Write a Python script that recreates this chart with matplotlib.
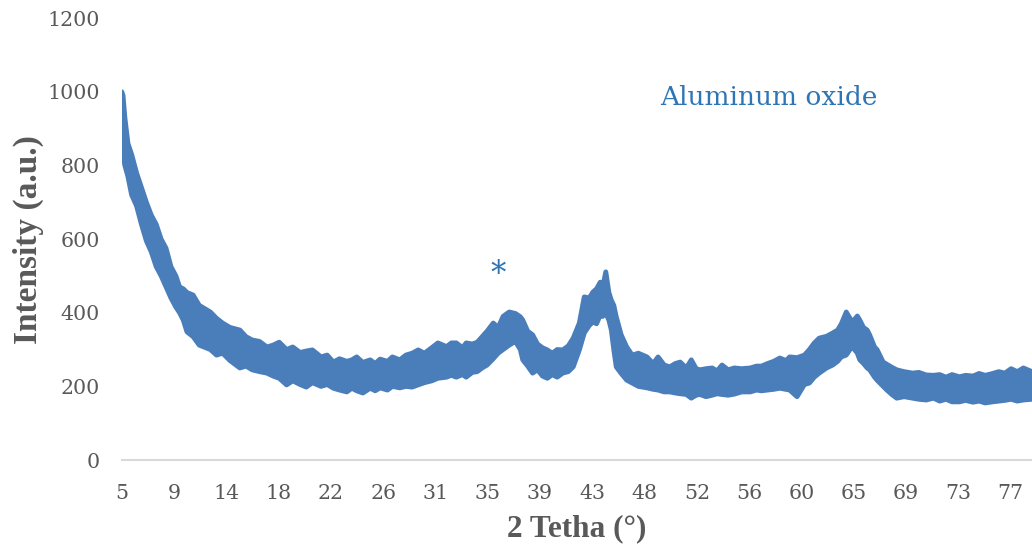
import numpy as np
import matplotlib
matplotlib.use('Agg')
import matplotlib.pyplot as plt

# 2 theta (deg) with lower / upper edge of the measured intensity band
two_theta = [5.0, 5.1, 5.25, 5.5, 5.8, 6.2, 6.6, 7.0, 7.4, 7.8, 8.2, 8.6, 9.0, 9.4, 9.7,
             10.0, 10.3, 10.8, 11.3, 12.2, 12.7, 13.2, 13.8, 14.6, 15.1, 15.6, 16.2,
             16.8, 17.3, 17.8, 18.4, 18.9, 19.5, 20.0, 20.5, 21.2, 21.7, 22.2, 22.7,
             23.3, 23.7, 24.1, 24.6, 25.2, 25.6, 26.0, 26.6, 27.0, 27.6, 28.1, 28.6,
             29.1, 29.6, 30.2, 30.7, 31.4, 31.8, 32.2, 32.7, 33.0, 33.5, 33.9, 34.3,
             34.7, 35.2, 35.6, 36.0, 36.5, 37.0, 37.4, 37.6, 38.0, 38.4, 38.8, 39.2,
             39.6, 40.0, 40.4, 40.85, 41.3, 41.7, 42.2, 42.6, 43.0, 43.3, 43.6, 43.9,
             44.1, 44.35, 44.6, 44.8, 45.0, 45.2, 45.6, 46.05, 46.5, 47.0, 47.7, 48.2,
             48.6, 49.1, 49.55, 50.0, 50.4, 50.9, 51.3, 51.7, 52.0, 52.5, 53.0, 53.4,
             53.8, 54.3, 54.8, 55.4, 56.1, 56.6, 57.0, 57.5, 58.0, 58.5, 59.0, 59.3,
             59.9, 60.5, 60.9, 61.3, 61.7, 62.3, 62.8, 63.2, 63.5, 63.9, 64.2, 64.4,
             64.8, 65.0, 65.3, 65.6, 65.8, 66.2, 66.4, 66.9, 67.2, 67.6, 68.0, 68.6,
             69.3, 69.8, 70.4, 71.0, 71.5, 72.0, 72.5, 73.1, 73.6, 74.2, 74.7, 75.2,
             75.8, 76.3, 76.8, 77.3, 77.8, 78.3, 79.0]
low = [880, 830, 800, 770, 720, 690, 640, 595, 565, 525, 500, 470, 440, 415, 400,
       380, 348, 335, 312, 300, 285, 290, 270, 250, 255, 245, 240,
       236, 228, 222, 204, 215, 205, 198, 210, 200, 205, 195, 190,
       185, 195, 188, 182, 195, 188, 196, 190, 200, 196, 200, 198,
       204, 210, 215, 222, 225, 230, 225, 232, 225, 238, 240, 250,
       258, 275, 290, 300, 312, 322, 300, 272, 255, 236, 245, 228,
       222, 232, 225, 236, 240, 253, 299, 345, 365, 375, 370, 394,
       390, 399, 380, 353, 300, 253, 235, 217, 209, 200, 196, 192,
       190, 185, 185, 182, 180, 178, 168, 176, 178, 172, 176, 180,
       178, 176, 179, 185, 185, 190, 188, 190, 192, 195, 192, 190,
       172, 205, 209, 225, 236, 250, 258, 268, 280, 285, 300, 307,
       290, 272, 262, 250, 245, 225, 217, 200, 190, 178, 168, 172,
       168, 165, 163, 168, 160, 165, 158, 158, 162, 157, 160, 155,
       158, 160, 162, 165, 160, 163, 165]
high = [1000, 990, 930, 860, 830, 780, 740, 700, 665, 640, 600, 575, 525, 500, 470,
        465, 455, 448, 420, 402, 385, 372, 360, 353, 335, 326, 322,
        307, 312, 320, 300, 307, 292, 296, 299, 280, 285, 266, 275,
        268, 272, 280, 265, 272, 262, 274, 268, 280, 272, 285, 290,
        299, 290, 305, 318, 308, 318, 318, 305, 318, 315, 320, 335,
        350, 372, 360, 390, 402, 398, 389, 380, 350, 340, 315, 305,
        299, 290, 300, 299, 310, 331, 372, 443, 440, 456, 465, 483,
        470, 511, 455, 434, 420, 389, 340, 307, 285, 290, 280, 262,
        280, 258, 253, 262, 266, 250, 272, 248, 245, 248, 250, 242,
        258, 245, 250, 248, 250, 255, 255, 262, 268, 277, 270, 280,
        278, 285, 300, 318, 331, 336, 345, 353, 370, 402, 385, 375,
        391, 380, 360, 353, 340, 307, 300, 266, 260, 252, 245, 240,
        236, 238, 231, 230, 232, 225, 232, 226, 230, 228, 235, 230,
        235, 240, 236, 248, 240, 250, 240]

xtick_pos = [5 + 4.25 * k for k in range(18)]
xtick_labels = ['5', '9', '14', '18', '22', '26', '31', '35', '39', '43',
                '48', '52', '56', '60', '65', '69', '73', '77']
yticks = [0, 200, 400, 600, 800, 1000, 1200]

line_col = '#4A7EBB'
text_col = '#595959'
label_col = '#2E75B6'

fig = plt.figure(figsize=(10.32, 5.5), dpi=100)
ax = fig.add_axes([0.118, 0.1636, 0.882, 0.8034])

x = np.array(two_theta)
lo = np.array(low)
hi = np.array(high)
ax.fill_between(x, lo, hi, color=line_col, lw=0)
ax.plot(x, lo, color=line_col, lw=3.5, solid_capstyle='round', solid_joinstyle='round')
ax.plot(x, hi, color=line_col, lw=3.5, solid_capstyle='round', solid_joinstyle='round')
ax.plot(x, (lo + hi) / 2, color=line_col, lw=5, solid_capstyle='round')

ax.set_xlim(5, 79)
ax.set_ylim(0, 1200)
ax.set_xticks(xtick_pos)
ax.set_xticklabels(xtick_labels)
ax.set_yticks(yticks)

for s in ['top', 'right', 'left']:
    ax.spines[s].set_visible(False)
ax.spines['bottom'].set_color('#D9D9D9')
ax.spines['bottom'].set_linewidth(1.5)
ax.tick_params(axis='both', length=0, labelcolor=text_col, labelsize=14.8)
ax.tick_params(axis='y', pad=16)
ax.tick_params(axis='x', pad=17)
for lab in ax.get_xticklabels() + ax.get_yticklabels():
    lab.set_family('DejaVu Serif')

ax.set_xlabel('2 Tetha (°)', family='Liberation Serif', weight='bold',
              fontsize=22.5, color=text_col, labelpad=8)
ax.set_ylabel('Intensity (a.u.)', family='Liberation Serif', weight='bold',
              fontsize=24, color=text_col, labelpad=2)

ax.text(57.6, 985, 'Aluminum oxide', family='DejaVu Serif', fontsize=19,
        color=label_col, ha='center', va='center')
ax.text(35.6, 503, '*', family='DejaVu Serif', fontsize=22,
        color=label_col, ha='center', va='center')

fig.savefig('out.png', dpi=100)
